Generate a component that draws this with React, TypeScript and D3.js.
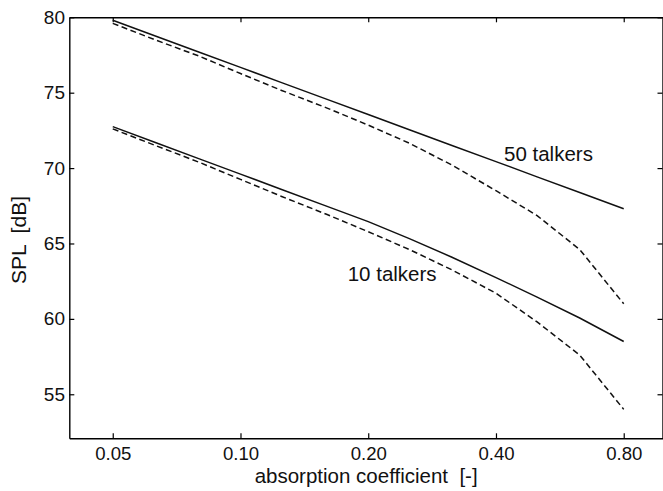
import React, { useEffect, useRef } from 'react'
import * as d3 from 'd3'

// absorption coefficients (one-third octave steps)
const alpha = [0.05, 0.063, 0.08, 0.1, 0.125, 0.16, 0.2, 0.25, 0.315, 0.4, 0.5, 0.63, 0.8]
const talkers50Solid = [79.8, 78.76, 77.68, 76.68, 75.67, 74.56, 73.55, 72.54, 71.5, 70.43, 69.42, 68.38, 67.3]
const talkers50Dashed = [79.6, 78.5, 77.42, 76.27, 75.15, 73.98, 72.85, 71.65, 70.2, 68.5, 66.85, 64.6, 61.0]
const talkers10Solid = [72.75, 71.7, 70.61, 69.6, 68.58, 67.46, 66.45, 65.32, 64.09, 62.74, 61.44, 60.06, 58.5]
const talkers10Dashed = [72.6, 71.5, 70.38, 69.25, 68.12, 66.92, 65.78, 64.6, 63.25, 61.7, 59.8, 57.6, 54.0]
const xTicks = [0.05, 0.1, 0.2, 0.4, 0.8]
const yTicks = [55, 60, 65, 70, 75, 80]

const W = 663
const H = 491
const font = '"Liberation Sans", Arial, sans-serif'

export default function App() {
    const ref = useRef<SVGSVGElement | null>(null)

    useEffect(() => {
        const svg = d3.select(ref.current)
        svg.selectAll('*').remove()

        const left = 69.3, right = 663, top = 17.3, bottom = 438.3
        const x = d3.scaleLog().domain([0.0395, 0.99]).range([left, right])
        const y = d3.scaleLinear().domain([52.08, 80]).range([bottom, top])

        const series = [
            { values: talkers50Solid, dashed: false },
            { values: talkers50Dashed, dashed: true },
            { values: talkers10Solid, dashed: false },
            { values: talkers10Dashed, dashed: true },
        ]

        const styleAxis = (g: any, fontSize: number) => {
            g.select('.domain').attr('stroke', '#000').attr('stroke-width', 1.4)
            g.selectAll('.tick line').attr('stroke', '#000').attr('stroke-width', 1.2)
            g.selectAll('.tick text')
                .attr('fill', '#111')
                .style('font-family', font)
                .style('font-size', fontSize + 'px')
        }

        svg.append('g')
            .attr('transform', `translate(0,${bottom})`)
            .call(d3.axisBottom(x).tickValues(xTicks).tickFormat(d3.format('.2f') as any)
                .tickSizeInner(-5).tickSizeOuter(0).tickPadding(8.6))
            .call((g: any) => styleAxis(g, 18.6))

        svg.append('g')
            .attr('transform', `translate(${left},0)`)
            .call(d3.axisLeft(y).tickValues(yTicks).tickFormat(d3.format('d') as any)
                .tickSizeInner(-5).tickSizeOuter(0).tickPadding(4.3))
            .call((g: any) => styleAxis(g, 19))
        svg.selectAll('text').attr('font-family', null)

        svg.append('g')
            .attr('transform', `translate(0,${top})`)
            .call(d3.axisTop(x).tickValues(xTicks).tickFormat(() => '')
                .tickSizeInner(-5).tickSizeOuter(0))
            .call((g: any) => styleAxis(g, 19))

        svg.append('g')
            .attr('transform', `translate(${right - 0.5},0)`)
            .call(d3.axisRight(y).tickValues(yTicks).tickFormat(() => '')
                .tickSizeInner(-5).tickSizeOuter(0))
            .call((g: any) => styleAxis(g, 19))

        const line = d3.line<number>()
            .x((_, i) => x(alpha[i]))
            .y(d => y(d))

        svg.append('g')
            .selectAll('path')
            .data(series)
            .enter().append('path')
            .attr('d', d => line(d.values))
            .attr('fill', 'none')
            .attr('stroke', '#111')
            .attr('stroke-width', 1.5)
            .attr('stroke-dasharray', d => d.dashed ? '6,3.5' : null)

        const label = (txt: string, px: number, py: number, size: number, anchor = 'start', rot = false) => {
            const t = svg.append('text')
                .attr('x', px).attr('y', py)
                .attr('text-anchor', anchor)
                .attr('fill', '#111')
                .style('font-family', font)
                .style('font-size', size + 'px')
                .style('white-space', 'pre')
                .text(txt)
            if (rot) t.attr('transform', `rotate(-90,${px},${py})`)
        }

        label('50 talkers', 504, 161, 20.5)
        label('10 talkers', 347.7, 280.7, 20.5)
        label('absorption coefficient  [-]', (left + right) / 2, 483, 20.5, 'middle')
        label('SPL  [dB]', 26, 240, 21, 'middle', true)
    }, [])

    return (
        <div>
            <svg ref={ref} width={W} height={H}
                style={{ position: 'absolute', left: 0, top: 0, background: '#fff' }} />
        </div>
    )
}
